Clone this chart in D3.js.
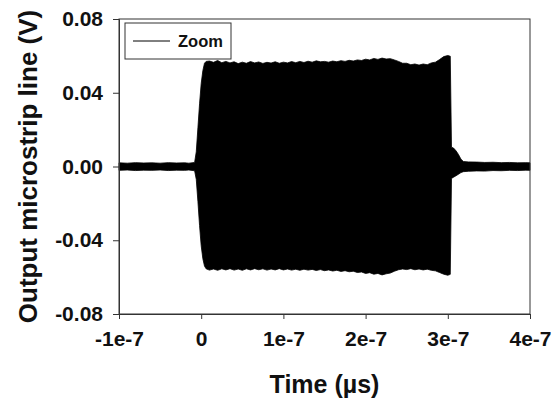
<!DOCTYPE html>
<html>
<head>
<meta charset="utf-8">
<script src="https://cdn.jsdelivr.net/npm/d3@7"></script>
<style>
  html, body { margin: 0; padding: 0; background: #fff; }
  svg { display: block; font-family: "Liberation Sans", Arial, sans-serif; }
</style>
</head>
<body>
<svg id="chart" width="559" height="401"></svg>
<script>
// ---- data (time in ns, voltage in V) ----
const timeNs = [-100,-90,-80,-70,-60,-50,-40,-30,-20,-15,-10,-8,
  -6,-4,-2,0,2,4,
  6,10,15,20,25,30,35,40,45,50,55,60,65,70,75,80,85,90,95,100,105,110,115,120,125,130,135,140,145,150,
  155,160,165,170,175,180,185,190,195,200,205,210,215,220,225,230,235,240,245,250,255,260,265,270,275,280,
  285,290,295,300,303,
  304.5,307,310,313,316,319,325,335,345,355,365,375,385,395,400];

const upperV = [0.0020,0.0018,0.0021,0.0019,0.0020,0.0018,0.0021,0.0019,0.0020,0.0018,0.0021,0.0022,
  0.008,0.021,0.034,0.045,0.052,0.056,
  0.0570,0.0572,0.0565,0.0575,0.0563,0.0570,0.0562,0.0568,0.0558,0.0566,0.0560,0.0569,0.0562,0.0567,0.0559,
  0.0565,0.0561,0.0568,0.0560,0.0566,0.0562,0.0569,0.0563,0.0570,0.0564,0.0571,0.0566,0.0573,0.0568,0.0570,
  0.0566,0.0572,0.0568,0.0574,0.0570,0.0576,0.0572,0.0578,0.0575,0.0582,0.0578,0.0586,0.0581,0.0588,0.0583,
  0.0585,0.0578,0.0570,0.0560,0.0560,0.0552,0.0556,0.0550,0.0556,0.0552,0.0562,
  0.0566,0.0580,0.0596,0.0602,0.0598,
  0.0105,0.0100,0.0085,0.0065,0.0040,0.0027,0.0025,0.0024,0.0022,0.0023,0.0021,0.0022,0.0020,0.0021,0.0020];

const lowerV = [-0.0021,-0.0019,-0.0022,-0.0020,-0.0021,-0.0019,-0.0022,-0.0020,-0.0021,-0.0019,-0.0022,-0.0023,
  -0.007,-0.019,-0.032,-0.043,-0.050,-0.054,
  -0.0555,-0.0562,-0.0556,-0.0563,-0.0555,-0.0561,-0.0554,-0.0562,-0.0556,-0.0563,-0.0555,-0.0561,-0.0554,-0.0560,-0.0555,
  -0.0562,-0.0556,-0.0561,-0.0554,-0.0561,-0.0556,-0.0562,-0.0557,-0.0563,-0.0557,-0.0562,-0.0558,-0.0564,-0.0559,-0.0565,
  -0.0561,-0.0567,-0.0563,-0.0569,-0.0565,-0.0571,-0.0568,-0.0575,-0.0572,-0.0580,-0.0576,-0.0584,-0.0580,-0.0588,-0.0582,
  -0.0578,-0.0568,-0.0560,-0.0556,-0.0559,-0.0554,-0.0560,-0.0556,-0.0561,-0.0557,-0.0563,
  -0.0566,-0.0575,-0.0584,-0.0590,-0.0585,
  -0.0065,-0.0058,-0.0050,-0.0042,-0.0033,-0.0028,-0.0026,-0.0024,-0.0025,-0.0022,-0.0023,-0.0021,-0.0022,-0.0020,-0.0021];

const xTicksNs = [-100, 0, 100, 200, 300, 400];
const xTickLabels = ["-1e-7", "0", "1e-7", "2e-7", "3e-7", "4e-7"];
const yTicks = [-0.08, -0.04, 0.00, 0.04, 0.08];
const yTickLabels = ["-0.08", "-0.04", "0.00", "0.04", "0.08"];
const seriesName = "Zoom";
const xTitle = "Time (\u00b5s)";
const yTitle = "Output microstrip line (V)";

// ---- layout ----
const svg = d3.select("#chart");
const plotL = 119, plotR = 530, plotT = 19, plotB = 314;

const x = d3.scaleLinear().domain([-100, 400]).range([plotL, plotR]);
const y = d3.scaleLinear().domain([-0.08, 0.08]).range([plotB, plotT]);

const pts = timeNs.map((t, i) => ({ t, hi: upperV[i], lo: lowerV[i] }));

// signal envelope
const area = d3.area()
  .x(d => x(d.t))
  .y0(d => y(d.lo))
  .y1(d => y(d.hi));
svg.append("path")
  .datum(pts)
  .attr("d", area)
  .attr("fill", "#000")
  .attr("stroke", "#000")
  .attr("stroke-width", 0.8);

// frame
svg.append("rect")
  .attr("x", plotL).attr("y", plotT)
  .attr("width", plotR - plotL).attr("height", plotB - plotT)
  .attr("fill", "none").attr("stroke", "#333").attr("stroke-width", 1);

// axes
const xAxis = d3.axisBottom(x)
  .tickValues(xTicksNs)
  .tickFormat((d, i) => xTickLabels[i])
  .tickSize(5).tickPadding(12);
const gx = svg.append("g").attr("transform", `translate(0,${plotB})`).call(xAxis);

const yAxis = d3.axisLeft(y)
  .tickValues(yTicks)
  .tickFormat((d, i) => yTickLabels[i])
  .tickSize(6).tickPadding(10);
const gy = svg.append("g").attr("transform", `translate(${plotL},0)`).call(yAxis);

[gx, gy].forEach(g => {
  g.select(".domain").attr("stroke", "#333");
  g.selectAll(".tick line").attr("stroke", "#333");
  g.selectAll(".tick text")
    .attr("fill", "#111")
    .attr("font-size", 21)
    .attr("font-weight", "bold")
    .attr("font-family", "'Liberation Sans', Arial, sans-serif");
});

// titles
svg.append("text")
  .attr("x", (plotL + plotR) / 2).attr("y", 393)
  .attr("text-anchor", "middle")
  .attr("font-size", 25).attr("font-weight", "bold").attr("fill", "#111")
  .text(xTitle);

svg.append("text")
  .attr("transform", `translate(37,${(plotT + plotB) / 2}) rotate(-90)`)
  .attr("text-anchor", "middle")
  .attr("font-size", 26).attr("font-weight", "bold").attr("fill", "#111")
  .text(yTitle);

// legend
const lg = svg.append("g");
lg.append("rect")
  .attr("x", 125).attr("y", 23).attr("width", 106).attr("height", 36)
  .attr("fill", "#fff").attr("stroke", "#333").attr("stroke-width", 1);
lg.append("line")
  .attr("x1", 133).attr("x2", 170).attr("y1", 41).attr("y2", 41)
  .attr("stroke", "#000").attr("stroke-width", 1);
lg.append("text")
  .attr("x", 178).attr("y", 47)
  .attr("font-size", 16.5).attr("font-weight", "bold").attr("fill", "#111")
  .text(seriesName);
</script>
</body>
</html>
